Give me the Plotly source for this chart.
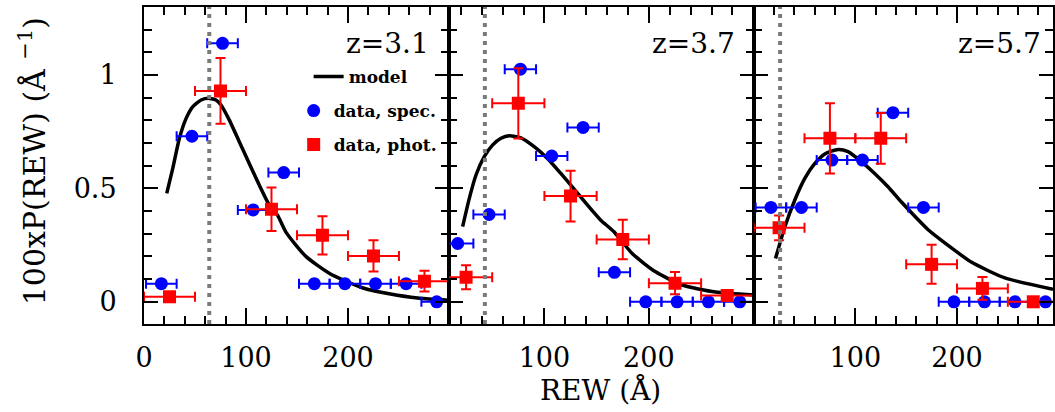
import plotly.graph_objects as go

# ---------------- data ----------------
panel_labels = ["z=3.1", "z=3.7", "z=5.7"]

spec_x = [17, 47, 77, 107, 137, 167, 197, 227, 257, 287]
spec_xerr = [15] * 10
phot_x = [25, 75, 125, 175, 225, 275]
phot_xerr = [25] * 6

spec_y1 = [0.08, 0.73, 1.14, 0.405, 0.57, 0.08, 0.08, 0.08, 0.08, 0.0]
phot_y1 = [0.022, 0.93, 0.408, 0.293, 0.202, 0.091]
phot_e1 = [0.005, 0.145, 0.096, 0.084, 0.069, 0.046]

spec_y2 = [0.257, 0.385, 1.026, 0.643, 0.769, 0.13, 0.0, 0.0, 0.0, 0.0]
phot_y2 = [0.108, 0.875, 0.466, 0.275, 0.082, 0.028]
phot_e2 = [0.053, 0.155, 0.112, 0.087, 0.049, 0.01]

spec_y3 = [0.416, 0.416, 0.625, 0.625, 0.834, 0.416, 0.0, 0.0, 0.0, 0.0]
phot_y3 = [0.326, 0.721, 0.721, 0.165, 0.059, 0.0]
phot_e3 = [0.055, 0.155, 0.112, 0.086, 0.05, 0.0]

model_x1 = [22.3, 28.2, 34.7, 41.3, 47.7, 56, 64.1, 70.6, 75.5, 83.7, 93.4, 103.2, 113, 122.8, 130.9,
            139.5, 159, 182, 214, 247, 279.6, 298.7]
model_y1 = [0.478, 0.588, 0.721, 0.809, 0.860, 0.890, 0.897, 0.890, 0.868, 0.801, 0.706, 0.610, 0.515, 0.427, 0.382,
            0.305, 0.199, 0.125, 0.062, 0.030, 0.012, 0.007]
model_x2 = [21.7, 28.1, 34.5, 42.4, 50.3, 58.4, 66.3, 77.5, 90.2, 102.9, 115.7, 128.4, 141.1, 153.9, 166.6,
            184, 206.4, 231.8, 263.7, 300.3]
model_y2 = [0.331, 0.456, 0.559, 0.640, 0.691, 0.721, 0.732, 0.723, 0.684, 0.632, 0.566, 0.497, 0.427, 0.360, 0.309,
            0.213, 0.132, 0.074, 0.043, 0.03]
model_x3 = [21.5, 30.7, 40.5, 50.3, 60.2, 70, 83, 92.8, 105.9, 119, 132.1, 145.1, 158.3, 171.3, 184.4, 197.5,
            214, 247, 294.4]
model_y3 = [0.191, 0.331, 0.449, 0.544, 0.610, 0.652, 0.672, 0.662, 0.618, 0.566, 0.507, 0.441, 0.378, 0.319, 0.272, 0.228,
            0.175, 0.105, 0.055]

rew_cut = [64, 43, 26]

x_ranges = [[0, 298.7], [8.3, 300.3], [0, 294.4]]
y_range = [-0.098, 1.30]
x_tickvals = [[0, 100, 200], [100, 200], [100, 200]]
y_tickvals = [0, 0.5, 1]
y_ticktext = ["0", "0.5", "1"]

# ---------------- figure ----------------
W, H = 1055, 412
ML, MR, MT, MB = 144, 0, 7, 88
PW = W - ML - MR
PH = H - MT - MB
panel_px = [(144, 449.3), (449.3, 755), (755, 1055)]
domains = [[(a - ML) / PW, min(1.0, (b - ML) / PW)] for a, b in panel_px]

FONT = "DejaVu Serif"
BLUE = "#0000ff"
RED = "#ff0000"

spec_ys = [spec_y1, spec_y2, spec_y3]
phot_ys = [phot_y1, phot_y2, phot_y3]
phot_es = [phot_e1, phot_e2, phot_e3]
model_xs = [model_x1, model_x2, model_x3]
model_ys = [model_y1, model_y2, model_y3]

fig = go.Figure()
for i in range(3):
    xa = "x" if i == 0 else f"x{i+1}"
    ya = "y" if i == 0 else f"y{i+1}"
    show = i == 0
    fig.add_trace(go.Scatter(
        x=model_xs[i], y=model_ys[i], mode="lines", name="model",
        line=dict(color="black", width=3.5, shape="spline", smoothing=0.6),
        xaxis=xa, yaxis=ya, showlegend=show, legend="legend"))
    fig.add_trace(go.Scatter(
        x=spec_x, y=spec_ys[i], mode="markers", name="data, spec.",
        marker=dict(color=BLUE, size=13, symbol="circle"),
        error_x=dict(type="data", array=spec_xerr, color=BLUE, thickness=2, width=5),
        xaxis=xa, yaxis=ya, showlegend=show, legend="legend2", cliponaxis=True))
    fig.add_trace(go.Scatter(
        x=phot_x, y=phot_ys[i], mode="markers", name="data, phot.",
        marker=dict(color=RED, size=13, symbol="square"),
        error_x=dict(type="data", array=phot_xerr, color=RED, thickness=2, width=5),
        error_y=dict(type="data", array=phot_es[i], color=RED, thickness=2, width=5),
        xaxis=xa, yaxis=ya, showlegend=show, legend="legend3", cliponaxis=True))
    fig.add_trace(go.Scatter(
        x=[rew_cut[i], rew_cut[i]], y=y_range, mode="lines",
        line=dict(color="#7a7a7a", width=4, dash="4px,5px"),
        xaxis=xa, yaxis=ya, showlegend=False, hoverinfo="skip"))

axis_common = dict(showline=True, linecolor="black", linewidth=2, mirror="allticks",
                   ticks="inside", tickcolor="black", tickwidth=2,
                   showgrid=False, zeroline=False,
                   tickfont=dict(family=FONT, size=27, color="black"))

layout = dict(width=W, height=H, margin=dict(l=ML, r=MR, t=MT, b=MB),
              paper_bgcolor="white", plot_bgcolor="white",
              font=dict(family=FONT, color="black"))
for i in range(3):
    xk = "xaxis" if i == 0 else f"xaxis{i+1}"
    yk = "yaxis" if i == 0 else f"yaxis{i+1}"
    ya = "y" if i == 0 else f"y{i+1}"
    xa = "x" if i == 0 else f"x{i+1}"
    layout[xk] = dict(axis_common, domain=domains[i], range=x_ranges[i], anchor=ya,
                      tickvals=x_tickvals[i], ticklen=16, ticklabelstandoff=9,
                      minor=dict(dtick=20, tick0=0, ticklen=8, ticks="inside",
                                 tickcolor="black", tickwidth=2))
    layout[yk] = dict(axis_common, domain=[0, 1], range=y_range, anchor=xa,
                      tickvals=y_tickvals, ticktext=y_ticktext, ticklen=14,
                      showticklabels=(i == 0), ticklabelstandoff=20,
                      minor=dict(dtick=0.1, tick0=0, ticklen=8, ticks="inside",
                                 tickcolor="black", tickwidth=2))

label_right_px = [432, 738, 1045]
annotations = []
for i in range(3):
    annotations.append(dict(text=panel_labels[i], xref="paper", yref="paper",
                            x=(label_right_px[i] - ML) / PW, y=1 - (44 - MT) / PH,
                            xanchor="right", yanchor="middle", showarrow=False,
                            font=dict(family=FONT, size=28, color="black")))
annotations.append(dict(text="REW (Å)", xref="paper", yref="paper",
                        x=(602 - ML) / PW, y=1 - (390 - MT) / PH,
                        xanchor="center", yanchor="middle", showarrow=False,
                        font=dict(family=FONT, size=28, color="black")))
annotations.append(dict(text="100xP(REW) (Å <sup>−1</sup>)", xref="paper", yref="paper",
                        x=(32 - ML) / PW, y=1 - (161 - MT) / PH, textangle=-90,
                        xanchor="center", yanchor="middle", showarrow=False,
                        font=dict(family=FONT, size=30, color="black")))
layout["annotations"] = annotations

legend_font = dict(family=FONT, size=17, color="black", weight="bold")
def legend_at(px_x, px_center_y):
    return dict(x=(px_x - ML) / PW, y=1 - (px_center_y - 16 - MT) / PH,
                xanchor="left", yanchor="top", bgcolor="rgba(0,0,0,0)",
                borderwidth=0, font=legend_font)
layout["legend"] = legend_at(309, 75)
layout["legend2"] = legend_at(294, 109)
layout["legend3"] = legend_at(294, 143)

fig.update_layout(**layout)
fig.write_html("out.html", config={"displayModeBar": False},
               post_script="document.body.style.margin='0';document.body.style.overflow='hidden';")
